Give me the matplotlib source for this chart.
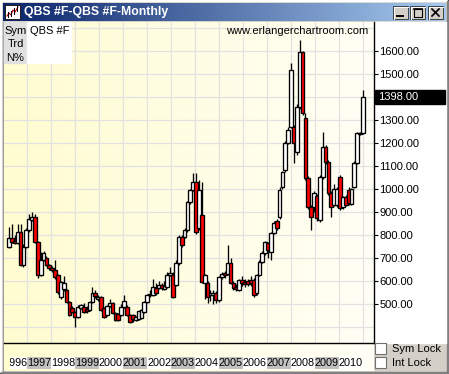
import numpy as np
import matplotlib
matplotlib.use('Agg')
import matplotlib.pyplot as plt
from matplotlib.patches import Rectangle
from matplotlib.lines import Line2D
from matplotlib.transforms import blended_transform_factory

plt.rcParams['font.family'] = ['Liberation Sans', 'DejaVu Sans']

# ---------------- data ----------------
opens = [750, 785, 775, 765, 813, 670, 750, 820, 865, 878, 770, 626, 690, 700, 670, 657, 648, 626, 530, 565,
         561, 509, 483, 465, 443, 483, 487, 480, 474, 509, 548, 520, 530, 483, 452, 491, 504, 461, 455, 452,
         487, 487, 452, 452, 430, 435, 439, 465, 509, 545, 539, 570, 570, 583, 565, 574, 626, 626, 583, 678,
         791, 791, 822, 943, 996, 1030, 830, 887, 591, 591, 540, 540, 548, 517, 617, 635, 630, 678, 591, 575,
         561, 604, 595, 600, 604, 604, 548, 626, 683, 722, 765, 726, 809, 860, 878, 1009, 1083, 1200, 1270, 1270,
         1161, 1357, 1596, 1309, 1048, 922, 922, 970, 865, 1052, 1183, 1117, 983, 930, 930, 1052, 922, 965, 996, 935,
         1009, 1113, 1240, 1243]
highs = [835, 850, 800, 850, 850, 760, 830, 890, 900, 890, 775, 726, 730, 710, 675, 665, 690, 630, 600, 620,
         565, 512, 490, 470, 495, 500, 505, 490, 515, 574, 560, 540, 535, 488, 495, 520, 510, 465, 460, 500,
         540, 495, 458, 455, 450, 475, 480, 515, 545, 560, 610, 590, 600, 590, 600, 640, 661, 640, 690, 800,
         800, 830, 950, 1000, 1070, 1070, 1040, 1030, 630, 600, 560, 560, 555, 620, 640, 645, 757, 700, 600, 585,
         610, 620, 610, 610, 620, 615, 630, 690, 730, 775, 770, 815, 860, 870, 1010, 1080, 1210, 1270, 1550, 1280,
         1370, 1648, 1600, 1330, 1055, 930, 990, 980, 1060, 1250, 1190, 1125, 990, 1020, 1010, 1060, 970, 975, 1010, 1005,
         1120, 1250, 1250, 1430]
lows = [745, 765, 760, 760, 665, 660, 745, 815, 860, 765, 613, 620, 685, 665, 650, 640, 610, 545, 520, 555,
        505, 448, 460, 400, 438, 478, 460, 462, 470, 505, 525, 515, 470, 438, 448, 488, 455, 425, 425, 448,
        483, 448, 418, 420, 425, 430, 435, 460, 505, 530, 535, 540, 565, 560, 560, 570, 620, 525, 580, 670,
        750, 785, 815, 935, 990, 805, 820, 590, 520, 505, 515, 500, 505, 510, 610, 615, 625, 585, 560, 555,
        555, 580, 575, 578, 580, 530, 540, 620, 678, 715, 700, 690, 805, 820, 870, 1000, 1075, 1195, 1265, 1113,
        1150, 1350, 1320, 1040, 915, 822, 900, 860, 855, 1045, 1110, 975, 880, 925, 920, 910, 915, 925, 930, 930,
        1005, 1108, 1235, 1240]
closes = [787, 770, 765, 813, 670, 750, 820, 870, 880, 770, 626, 690, 722, 670, 657, 648, 617, 552, 596, 591,
          509, 452, 465, 443, 487, 496, 465, 468, 509, 548, 535, 530, 474, 443, 491, 504, 461, 430, 430, 487,
          513, 452, 422, 435, 445, 470, 474, 509, 539, 540, 574, 548, 583, 570, 580, 626, 635, 530, 678, 791,
          757, 822, 943, 996, 1030, 813, 996, 596, 626, 530, 548, 548, 517, 617, 630, 625, 678, 591, 570, 565,
          604, 590, 585, 585, 590, 539, 626, 683, 722, 770, 735, 809, 852, 830, 996, 1074, 1200, 1257, 1517, 1200,
          1357, 1596, 1330, 1048, 922, 878, 983, 874, 1052, 1183, 1117, 983, 922, 1000, 1000, 917, 965, 930, 939, 1000,
          1113, 1243, 1245, 1398]
year_labels = ['1996', '1997', '1998', '1999', '2000', '2001', '2002', '2003', '2004',
               '2005', '2006', '2007', '2008', '2009', '2010']
price_ticks = [500, 600, 700, 800, 900, 1000, 1100, 1200, 1300, 1400, 1500, 1600]
extra_grid = [400, 1700]
symbol = 'QBS #F'
last_price = closes[-1]

# ---------------- layout helpers (pixel coords, top-left origin) ----------------
W, H = 449, 374
fig = plt.figure(figsize=(W / 100, H / 100), dpi=100)
fig.patch.set_facecolor('#D4D0C8')


def fx(px):
    return px / W


def fy(py):
    return 1 - py / H


def frect(x0, y0, x1, y1, **kw):
    r = Rectangle((fx(x0), fy(y1)), (x1 - x0) / W, (y1 - y0) / H,
                  transform=fig.transFigure, **kw)
    fig.add_artist(r)
    return r


def fline(xs, ys, **kw):
    l = Line2D([fx(x) for x in xs], [fy(y) for y in ys], transform=fig.transFigure, **kw)
    fig.add_artist(l)
    return l


# outer frame shading
frect(0, 0, 449, 1, color='#FFFFFF', zorder=-2)
frect(0, 0, 1, 374, color='#FFFFFF', zorder=-2)
frect(448, 0, 449, 374, color='#404040', zorder=-2)
frect(0, 373, 449, 374, color='#404040', zorder=-2)
frect(447, 1, 448, 373, color='#808080', zorder=-2)
frect(1, 372, 448, 373, color='#808080', zorder=-2)

# title bar gradient
tb = fig.add_axes([fx(3), fy(21), 443 / W, 18 / H])
g = np.linspace(0, 1, 256)
ca = np.array([10, 36, 106]) / 255
cb = np.array([166, 202, 240]) / 255
tb.imshow((ca[None, :] * (1 - g[:, None]) + cb[None, :] * g[:, None])[None, :, :],
          aspect='auto', extent=[0, 1, 0, 1])
tb.axis('off')
fig.text(fx(24), fy(12.5), 'QBS #F-QBS #F-Monthly', color='white', weight='bold',
         fontsize=8.8, va='center', ha='left', zorder=5)

# icon
frect(5, 5, 20, 19, facecolor='white', edgecolor='#202020', lw=0.7, zorder=5)
fline([7, 9, 11, 13, 15, 18], [16, 13, 15, 10, 12, 7], color='#C00000', lw=0.8, zorder=6)
for xx, (a, b) in zip([8, 11, 14, 17], [(12, 17), (11, 16), (8, 14), (6, 11)]):
    fline([xx, xx], [a, b], color='black', lw=0.7, zorder=6)

# window buttons
for x0, kind in zip([393, 410, 428], ['min', 'max', 'close']):
    frect(x0, 6, x0 + 15, 19, facecolor='#D4D0C8', edgecolor='#404040', lw=0.7, zorder=5)
    fline([x0 + 0.5, x0 + 0.5, x0 + 14.5], [18.5, 6.5, 6.5], color='white', lw=0.7, zorder=6)
    if kind == 'min':
        fline([x0 + 4, x0 + 10], [16, 16], color='black', lw=1.4, zorder=6)
    elif kind == 'max':
        frect(x0 + 3.5, 8.5, x0 + 11.5, 16.5, facecolor='none', edgecolor='black', lw=0.8, zorder=6)
        fline([x0 + 3.5, x0 + 11.5], [9.3, 9.3], color='black', lw=1.2, zorder=6)
    else:
        fline([x0 + 4, x0 + 11], [9, 16], color='black', lw=1.2, zorder=6)
        fline([x0 + 4, x0 + 11], [16, 9], color='black', lw=1.2, zorder=6)

# chart background gradient
bg = fig.add_axes([fx(4), fy(371), 370 / W, 349 / H])
c0 = np.array([255, 252, 208]) / 255
c1 = np.array([255, 255, 246]) / 255
bg.imshow((c0[None, :] * (1 - g[:, None]) + c1[None, :] * g[:, None])[None, :, :],
          aspect='auto', extent=[0, 1, 0, 1])
bg.axis('off')
frect(3, 22, 4, 371, color='#A0A0A0', zorder=-1)

# right price panel
frect(374, 22, 446, 343, color='white', zorder=-1)

# ---------------- main chart ----------------
n = len(closes)
first_px, step_px = 9.0, (363.0 - 9.0) / (n - 1)


def idx(px):
    return (px - first_px) / step_px


ax = fig.add_axes([fx(4), fy(343), 370 / W, 321 / H])
ax.set_facecolor('none')
ax.set_xlim(idx(4), idx(374))
ppx = 0.23  # pixels per price unit
ax.set_ylim(1600 - (343 - 51) / ppx, 1600 + (51 - 22) / ppx)

year_px = [3 + k * 24.0 for k in range(len(year_labels) + 1)]
bounds = [idx(p) for p in year_px]

ax.set_xticks(bounds[1:])
ax.set_yticks(price_ticks)
# the 1400 label sits under the last-price box, so it is left blank
ax.set_yticklabels(['' if abs(v - last_price) < 40 else f'{v:.2f}' for v in price_ticks])
ax.yaxis.tick_right()
ax.tick_params(axis='y', length=3, width=0.8, pad=1, labelsize=8, colors='black', direction='out')
ax.tick_params(axis='x', length=0, labelbottom=False)
ax.grid(True, color='#E2E2E2', lw=0.9, zorder=0)
for v in extra_grid:
    ax.axhline(v, color='#E2E2E2', lw=0.9, zorder=0)
for s in ['top', 'left']:
    ax.spines[s].set_visible(False)
ax.spines['right'].set_color('black')
ax.spines['right'].set_linewidth(1.0)
ax.spines['bottom'].set_color('black')
ax.spines['bottom'].set_linewidth(1.0)

bw = 1.3
for i, (o, h, l, c) in enumerate(zip(opens, highs, lows, closes)):
    z = 3 + i * 0.01
    ax.vlines(i, l, h, color='black', lw=0.95, zorder=z)
    up = c >= o
    ax.add_patch(Rectangle((i - bw / 2, min(o, c)), bw, max(abs(c - o), 3),
                           facecolor='white' if up else '#FF0000', edgecolor='black',
                           lw=0.95, zorder=z + 0.005))

# year label strip
bt = blended_transform_factory(ax.transData, fig.transFigure)
for k, lab in enumerate(year_labels):
    x0 = bounds[k] if k > 0 else idx(10)
    x1 = bounds[k + 1]
    rect = Rectangle((x0, fy(369)), x1 - x0, 12 / H, transform=bt,
                     facecolor='#C0C0C0' if k % 2 == 1 else 'white', edgecolor='none',
                     clip_on=False, zorder=2)
    ax.add_patch(rect)
    t = ax.text(bounds[k], fy(363), lab, transform=bt, ha='left', va='center',
                fontsize=7.8, color='black', zorder=3)
    t.set_clip_path(rect)
    t.set_clip_on(True)

# last price marker
fig.canvas.draw()
ydisp = ax.transData.transform((0, last_price))[1]
ypx = H - ydisp
frect(375, ypx - 7, 445, ypx + 7, color='black', zorder=6)
fig.text(fx(378), fy(ypx), f'{last_price:.2f}', color='white', fontsize=8,
         va='center', ha='left', zorder=7)

# info box
frect(4, 22, 27, 63, color='#E0E0E0', zorder=4)
frect(27, 22, 71, 63, color='white', zorder=4)
for lab, yy in zip(['Sym', 'Trd', 'N%'], [31, 44, 58]):
    fig.text(fx(15.5), fy(yy), lab, fontsize=8, ha='center', va='center', zorder=5)
fig.text(fx(30), fy(31), symbol, fontsize=8, ha='left', va='center', zorder=5)

fig.text(fx(226), fy(30.5), 'www.erlangerchartroom.com', fontsize=8, ha='left',
         va='center', zorder=5)

# lock checkboxes
for yy, lab in zip([343, 357], ['Sym Lock', 'Int Lock']):
    frect(375, yy, 386, yy + 11, facecolor='white', edgecolor='#707070', lw=0.8, zorder=5)
    fig.text(fx(392), fy(yy + 6), lab, fontsize=8, ha='left', va='center', zorder=5)

fig.savefig('out.png', dpi=100, facecolor=fig.get_facecolor())
